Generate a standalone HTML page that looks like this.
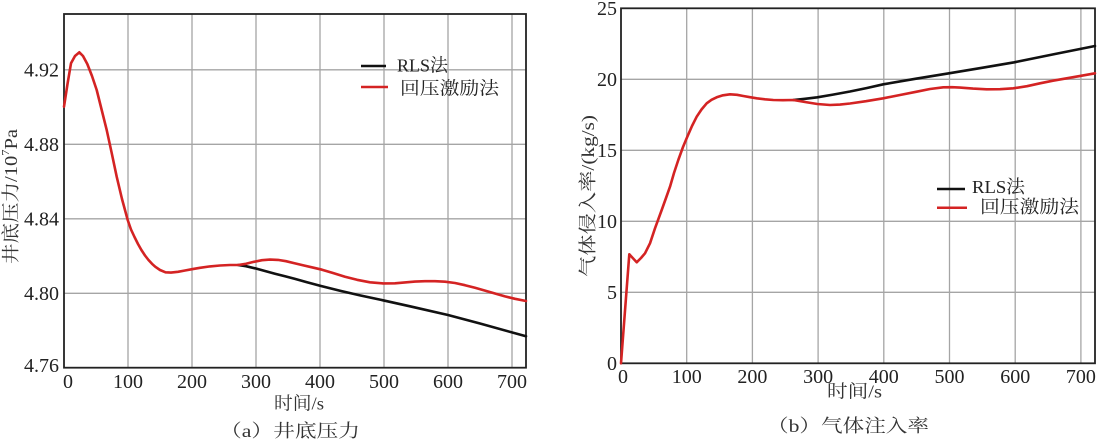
<!DOCTYPE html>
<html>
<head>
<meta charset="utf-8">
<style>
html,body{margin:0;padding:0;background:#fff;}
svg{display:block;}
text{font-family:"Liberation Serif","Noto Serif CJK SC","Noto Sans CJK SC",serif;fill:#222;}
.cj{font-family:"Liberation Serif","Noto Serif CJK SC","Noto Sans CJK SC",serif;fill:#333;}
</style>
</head>
<body>
<svg width="1099" height="441" viewBox="0 0 1099 441" xmlns="http://www.w3.org/2000/svg">
<rect width="1099" height="441" fill="#fff"/>

<!-- ========== LEFT CHART ========== -->
<g stroke="#a5a5a5" stroke-width="1.3" fill="none">
  <line x1="128" y1="14" x2="128" y2="368"/>
  <line x1="192" y1="14" x2="192" y2="368"/>
  <line x1="256" y1="14" x2="256" y2="368"/>
  <line x1="320" y1="14" x2="320" y2="368"/>
  <line x1="384" y1="14" x2="384" y2="368"/>
  <line x1="448" y1="14" x2="448" y2="368"/>
  <line x1="512" y1="14" x2="512" y2="368"/>
  <line x1="64" y1="69.8" x2="526" y2="69.8"/>
  <line x1="64" y1="144.3" x2="526" y2="144.3"/>
  <line x1="64" y1="218.8" x2="526" y2="218.8"/>
  <line x1="64" y1="293.3" x2="526" y2="293.3"/>
</g>
<rect x="64" y="14" width="462" height="353.7" fill="none" stroke="#222" stroke-width="1.8"/>

<!-- black curve -->
<polyline fill="none" stroke="#111" stroke-width="2.6" stroke-linejoin="round" stroke-linecap="round"
 points="238,265 246,266.2 255,268.3 265,271 275,273.7 285,276.2 295,278.9 307,282.3 321,286 340,290.8 360,295.4 383,300.3 410,306.3 448,315 480,323.5 526,336.3"/>
<!-- red curve -->
<polyline fill="none" stroke="#d42323" stroke-width="2.6" stroke-linejoin="round" stroke-linecap="round"
 points="64,106.7 67.5,84 71,63.3 75,56 79.3,52.3 83,56 87.3,64 92,76 96.7,90 101.7,110 106.7,130 111.7,153 116.7,176.7 122,199 127.7,220 131,229.5 134.5,237 138,244 141.4,250 145,255.5 148.5,260 152,263.8 155.2,266.7 160,270 165.5,272.3 171,272.6 178,271.8 185,270.5 192,269.2 200,267.8 210,266.4 220,265.5 230,265 238,265 246,263.8 254,261.8 262,260.2 270,259.6 278,259.9 286,261.2 294,263.1 304,265.5 314,267.8 322,269.7 333,273 345,276.7 357,279.8 370,282.3 383,283.4 395,283.3 405,282.4 415,281.6 425,281.2 435,281.2 445,281.7 455,283 465,285.2 475,287.8 485,290.6 495,293.5 505,296.4 515,298.8 526,301"/>

<!-- y tick labels -->
<g font-size="20" text-anchor="end">
  <text x="59" y="76.6">4.92</text>
  <text x="59" y="151.1">4.88</text>
  <text x="59" y="225.6">4.84</text>
  <text x="59" y="300.1">4.80</text>
  <text x="59" y="372">4.76</text>
</g>
<!-- x tick labels -->
<g font-size="20" text-anchor="middle">
  <text x="68" y="388">0</text>
  <text x="128" y="388">100</text>
  <text x="192" y="388">200</text>
  <text x="256" y="388">300</text>
  <text x="320" y="388">400</text>
  <text x="384" y="388">500</text>
  <text x="448" y="388">600</text>
  <text x="512" y="388">700</text>
</g>
<text class="cj" x="274" y="409.5" font-size="18" textLength="50" lengthAdjust="spacingAndGlyphs">时间/s</text>
<text class="cj" x="220" y="437" font-size="18" textLength="140" lengthAdjust="spacingAndGlyphs">（a）井底压力</text>
<text class="cj" transform="translate(17,264) rotate(-90)" font-size="18" textLength="135" lengthAdjust="spacingAndGlyphs">井底压力/10<tspan font-size="11" dy="-8">7</tspan><tspan dy="8">Pa</tspan></text>

<!-- legend left -->
<line x1="361" y1="66" x2="386" y2="66" stroke="#111" stroke-width="2.5"/>
<line x1="361" y1="87" x2="388" y2="87" stroke="#d42323" stroke-width="2.5"/>
<text x="397" y="71.5" font-size="18" textLength="51" lengthAdjust="spacingAndGlyphs">RLS法</text>
<text x="400" y="94.5" font-size="18" textLength="99" lengthAdjust="spacingAndGlyphs">回压激励法</text>

<!-- ========== RIGHT CHART ========== -->
<g stroke="#a5a5a5" stroke-width="1.3" fill="none">
  <line x1="686.7" y1="8.3" x2="686.7" y2="363.3"/>
  <line x1="752.4" y1="8.3" x2="752.4" y2="363.3"/>
  <line x1="818.1" y1="8.3" x2="818.1" y2="363.3"/>
  <line x1="883.8" y1="8.3" x2="883.8" y2="363.3"/>
  <line x1="949.5" y1="8.3" x2="949.5" y2="363.3"/>
  <line x1="1015.2" y1="8.3" x2="1015.2" y2="363.3"/>
  <line x1="1080.9" y1="8.3" x2="1080.9" y2="363.3"/>
  <line x1="621" y1="79.3" x2="1095" y2="79.3"/>
  <line x1="621" y1="150.3" x2="1095" y2="150.3"/>
  <line x1="621" y1="221.3" x2="1095" y2="221.3"/>
  <line x1="621" y1="292.3" x2="1095" y2="292.3"/>
</g>
<rect x="621" y="8.3" width="474" height="355" fill="none" stroke="#222" stroke-width="1.8"/>

<polyline fill="none" stroke="#111" stroke-width="2.6" stroke-linejoin="round" stroke-linecap="round"
 points="793.3,100 805,98.8 817.3,97.3 833,94.6 850,91.5 867,88 883.3,84.3 916,78.7 949,73.3 982,67.8 1014.3,62.3 1055,54 1095,46"/>
<polyline fill="none" stroke="#d42323" stroke-width="2.6" stroke-linejoin="round" stroke-linecap="round"
 points="621,363.3 629.3,254.3 636.7,262.3 641,258 645,253.3 650,243.3 655,228.3 661.7,210 666,198 670,186.7 674,173 678.3,160 683,147 687.3,136.7 692,126 696.7,116.7 701.5,109.5 706.7,103.3 711.5,99.8 716.7,97.3 723,95.3 730,94.3 737,94.8 743.3,96 750,97.2 756.7,98.3 765,99.3 773.3,100 783,100.2 793.3,100 805,102 817.3,104 830,105 840,104.6 850,103.5 866,101.2 883.3,98.3 900,95 916.7,91.7 930,89 943.3,87.3 952,87.2 960,87.6 973,88.6 986.7,89.3 1000,89.2 1013.3,88.3 1027,86.2 1040,83.3 1053,80.7 1066.7,78.3 1081,75.8 1095,73.3"/>

<g font-size="20" text-anchor="end">
  <text x="617" y="15">25</text>
  <text x="617" y="86">20</text>
  <text x="617" y="157">15</text>
  <text x="617" y="228">10</text>
  <text x="617" y="299">5</text>
  <text x="617" y="370">0</text>
</g>
<g font-size="20" text-anchor="middle">
  <text x="623" y="383">0</text>
  <text x="686.7" y="383">100</text>
  <text x="752.4" y="383">200</text>
  <text x="818.1" y="383">300</text>
  <text x="883.8" y="383">400</text>
  <text x="949.5" y="383">500</text>
  <text x="1015.2" y="383">600</text>
  <text x="1080.9" y="383">700</text>
</g>
<text class="cj" x="827" y="397.5" font-size="18" textLength="55" lengthAdjust="spacingAndGlyphs">时间/s</text>
<text class="cj" x="767" y="432" font-size="18" textLength="162" lengthAdjust="spacingAndGlyphs">（b）气体注入率</text>
<text class="cj" transform="translate(594,277) rotate(-90)" font-size="18" textLength="162" lengthAdjust="spacingAndGlyphs">气体侵入率/(kg/s)</text>

<!-- legend right -->
<line x1="937" y1="189" x2="965" y2="189" stroke="#111" stroke-width="2.5"/>
<line x1="937" y1="207.7" x2="967" y2="207.7" stroke="#d42323" stroke-width="2.5"/>
<text x="972" y="193" font-size="18" textLength="53" lengthAdjust="spacingAndGlyphs">RLS法</text>
<text x="980" y="213" font-size="18" textLength="99" lengthAdjust="spacingAndGlyphs">回压激励法</text>
</svg>
</body>
</html>
